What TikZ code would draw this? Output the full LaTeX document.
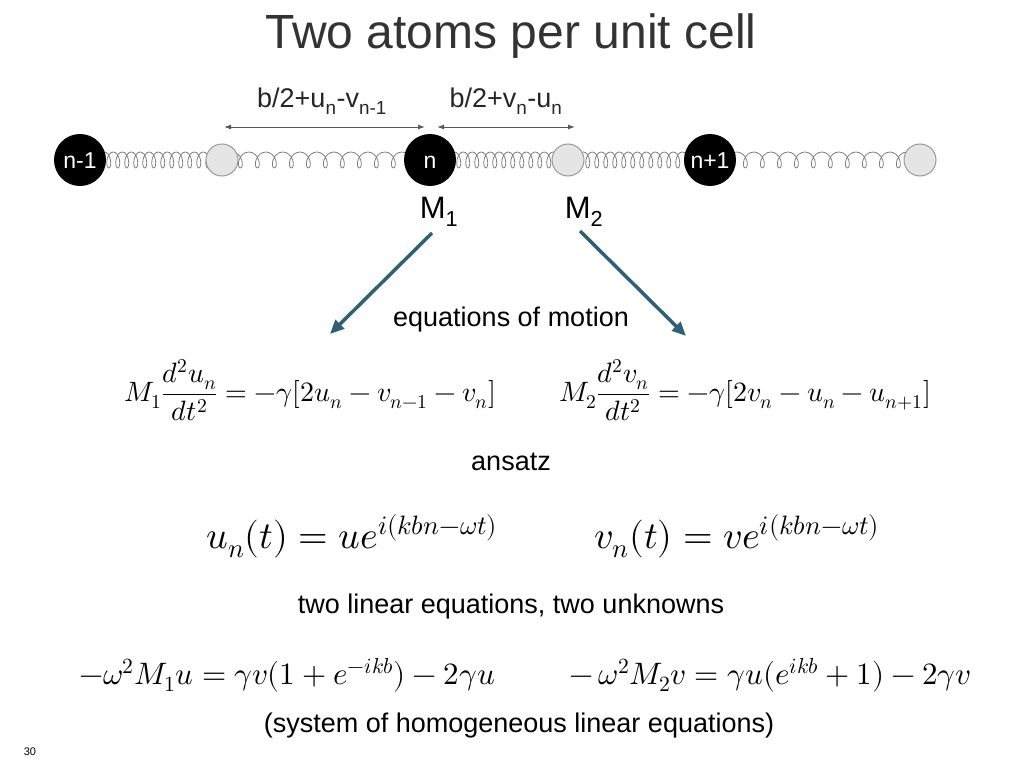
\documentclass[tikz,border=0pt]{standalone}
\usepackage{fontspec}
\usepackage{amsmath}
\usepackage{unicode-math}
\setmainfont{Liberation Sans}
\setmathfont{Latin Modern Math}
\usetikzlibrary{decorations.pathmorphing,arrows.meta}
\definecolor{arr}{RGB}{47,96,116}
\begin{document}
\begin{tikzpicture}[x=1pt,y=-1pt,
  big/.style={circle,fill=black,minimum size=52pt,inner sep=0pt},
  blab/.style={text=white,font=\fontsize{23}{23}\selectfont,inner sep=0pt},
  small/.style={circle,draw=gray!80,fill=gray!20,line width=1pt,minimum size=32pt,inner sep=0pt},
  tight/.style={draw=gray,line width=0.8pt,decorate,decoration={coil,aspect=0.5,amplitude=8pt,segment length=9pt}},
  loose/.style={draw=gray,line width=0.8pt,decorate,decoration={coil,aspect=0.7,amplitude=8pt,segment length=17pt}},
  big arrow/.style={-{Triangle[length=14pt,width=12pt]},line width=3.5pt,draw=arr},
  dim/.style={{Latex[length=7pt,width=5pt]}-{Latex[length=7pt,width=5pt]},line width=1pt,draw=gray!70!black},
  txt/.style={font=\fontsize{27}{30}\selectfont}]
\useasboundingbox (0,0) rectangle (1024,768);
\node[font=\fontsize{48}{52}\selectfont,text=black!80] (title) at (511,36) {Two atoms per unit cell};
\coordinate (p1) at (80,160); \coordinate (p2) at (222,160); \coordinate (p3) at (430,160);
\coordinate (p4) at (568,160); \coordinate (p5) at (710,160); \coordinate (p6) at (920,160);
\draw[tight] (p1) -- (p2);
\draw[loose] (p2) -- (p3);
\draw[tight] (p3) -- (p4);
\draw[tight] (p4) -- (p5);
\draw[loose] (p5) -- (p6);
\node[big] (a1) at (p1) {};
\node[small] (b1) at (p2) {};
\node[big] (a2) at (p3) {};
\node[small] (b2) at (p4) {};
\node[big] (a3) at (p5) {};
\node[small] (b3) at (p6) {};
\node[blab,anchor=base] (la1) at ([yshift=-8pt]a1.center) {n-1};
\node[blab,anchor=base] (la2) at ([yshift=-8pt]a2.center) {n};
\node[blab,anchor=base] (la3) at ([yshift=-8pt]a3.center) {n+1};
\coordinate (d1) at (224,127); \coordinate (d2) at (425,127);
\coordinate (d3) at (437,127); \coordinate (d4) at (575,127);
\draw[dim] (d1) -- (d2);
\draw[dim] (d3) -- (d4);
\node[font=\fontsize{27}{30}\selectfont,text=black!85] (l1) at (322,101) {b/2+u\textsubscript{n}-v\textsubscript{n-1}};
\node[font=\fontsize{27}{30}\selectfont,text=black!85] (l2) at (506,101) {b/2+v\textsubscript{n}-u\textsubscript{n}};
\node[font=\fontsize{31}{34}\selectfont] (m1) at (439,212) {M\textsubscript{1}};
\node[font=\fontsize{31}{34}\selectfont] (m2) at (584,212) {M\textsubscript{2}};
\coordinate (s1) at (432,233); \coordinate (s2) at (580,231);
\coordinate (t1) at (330,334); \coordinate (t2) at (686,336);
\draw[big arrow] (s1) -- (t1);
\draw[big arrow] (s2) -- (t2);
\node[txt] (eom) at (511,320) {equations of motion};
\node[font=\fontsize{28}{32}\selectfont] (e1) at (310,390) {$M_1\dfrac{d^2u_n}{dt^2}=-\gamma[2u_n-v_{n-1}-v_n]$};
\node[font=\fontsize{28}{32}\selectfont] (e2) at (745,390) {$M_2\dfrac{d^2v_n}{dt^2}=-\gamma[2v_n-u_n-u_{n+1}]$};
\node[txt] (ans) at (511,462) {ansatz};
\node[font=\fontsize{38}{42}\selectfont] (a1e) at (352,536) {$u_n(t)=ue^{i(kbn-\omega t)}$};
\node[font=\fontsize{38}{42}\selectfont] (a2e) at (737,536) {$v_n(t)=ve^{i(kbn-\omega t)}$};
\node[txt] (two) at (511,607) {two linear equations, two unknowns};
\node[font=\fontsize{31}{34}\selectfont] (f1) at (287,675) {$-\omega^2M_1u=\gamma v(1+e^{-ikb})-2\gamma u$};
\node[font=\fontsize{31}{34}\selectfont] (f2) at (770,675) {$-\,\omega^2M_2v=\gamma u(e^{ikb}+1)-2\gamma v$};
\node[txt] (sys) at (519,726) {(system of homogeneous linear equations)};
\node[font=\fontsize{11}{12}\selectfont] (pg) at (30,752) {30};
\end{tikzpicture}
\end{document}
